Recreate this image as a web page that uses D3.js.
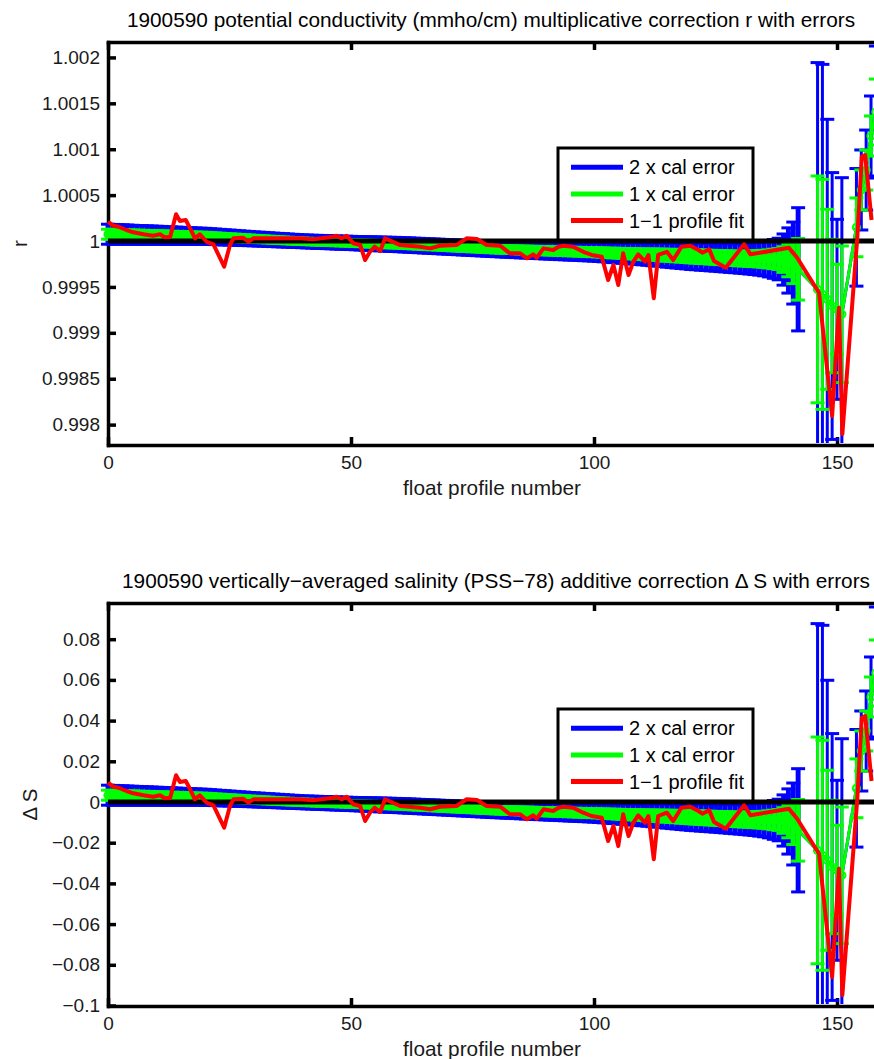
<!DOCTYPE html>
<html><head><meta charset="utf-8">
<script src="https://cdn.jsdelivr.net/npm/d3@7"></script>
<style>body{margin:0;background:#fff}svg{display:block}</style>
</head><body><svg id="c" width="874" height="1059"></svg>
<script>
// ---------- data ----------
const barProfiles = [0,1,2,3,4,5,6,7,8,9,10,11,12,13,14,15,16,17,18,19,20,21,22,23,24,25,26,27,28,29,
30,31,32,33,34,35,36,37,38,39,40,41,42,43,44,45,46,47,48,49,50,51,52,53,54,55,56,57,58,59,
60,61,62,63,64,65,66,67,68,69,70,71,72,73,74,75,76,77,78,79,80,81,82,83,84,85,86,87,88,89,
90,91,92,93,94,95,96,97,98,99,100,101,102,103,104,105,106,107,108,109,110,111,112,113,114,115,116,117,118,119,
120,121,122,123,124,125,126,127,128,129,130,131,132,133,134,135,136,137,138,139,140,141,142,
146,147,148,149,150,151,154,155,156,157,158];

const calR = [1.000074,1.000073,1.000072,1.000071,1.000070,1.000068,1.000067,1.000066,1.000065,1.000064,
1.000063,1.000062,1.000060,1.000059,1.000058,1.000057,1.000056,1.000055,1.000053,1.000052,
1.000051,1.000048,1.000046,1.000043,1.000040,1.000038,1.000035,1.000032,1.000029,1.000027,
1.000024,1.000021,1.000019,1.000016,1.000013,1.000010,1.000008,1.000005,1.000002,1.000000,
0.999997,0.999995,0.999993,0.999991,0.999990,0.999988,0.999986,0.999984,0.999982,0.999981,
0.999979,0.999977,0.999975,0.999973,0.999972,0.999970,0.999968,0.999966,0.999964,0.999963,
0.999961,0.999958,0.999956,0.999953,0.999951,0.999948,0.999946,0.999943,0.999941,0.999938,
0.999936,0.999933,0.999931,0.999928,0.999926,0.999923,0.999921,0.999918,0.999916,0.999913,
0.999911,0.999909,0.999907,0.999906,0.999904,0.999902,0.999901,0.999899,0.999898,0.999896,
0.999894,0.999893,0.999891,0.999889,0.999888,0.999886,0.999885,0.999883,0.999881,0.999880,
0.999878,0.999876,0.999874,0.999871,0.999869,0.999867,0.999865,0.999863,0.999861,0.999858,
0.999856,0.999854,0.999852,0.999850,0.999848,0.999845,0.999843,0.999841,0.999839,0.999837,
0.999834,0.999832,0.999829,0.999827,0.999824,0.999822,0.999819,0.999817,0.999814,0.999812,
0.999809,0.999809,0.999808,0.999807,0.999807,0.999806,0.999805,0.999805,0.999804,0.999798,
0.999788,0.999760,0.999692,
0.999473,0.999419,0.999365,0.999292,0.999256,0.999202,
1.000149,1.000556,1.000773,1.001144,1.001405];

const calRErr = [5.45e-5,5.39e-5,5.34e-5,5.28e-5,5.23e-5,5.17e-5,5.12e-5,5.07e-5,5.01e-5,4.96e-5,
4.90e-5,4.85e-5,4.79e-5,4.74e-5,4.68e-5,4.63e-5,4.58e-5,4.52e-5,4.47e-5,4.41e-5,
4.36e-5,4.30e-5,4.25e-5,4.19e-5,4.14e-5,4.08e-5,4.03e-5,3.98e-5,3.92e-5,3.87e-5,
3.81e-5,3.78e-5,3.75e-5,3.71e-5,3.68e-5,3.65e-5,3.62e-5,3.58e-5,3.55e-5,3.52e-5,
3.49e-5,3.50e-5,3.51e-5,3.52e-5,3.53e-5,3.54e-5,3.55e-5,3.56e-5,3.57e-5,3.58e-5,
3.59e-5,3.62e-5,3.65e-5,3.68e-5,3.70e-5,3.73e-5,3.76e-5,3.79e-5,3.81e-5,3.84e-5,
3.87e-5,3.88e-5,3.89e-5,3.90e-5,3.91e-5,3.92e-5,3.93e-5,3.94e-5,3.95e-5,3.97e-5,
3.98e-5,3.99e-5,4.00e-5,4.01e-5,4.02e-5,4.03e-5,4.04e-5,4.05e-5,4.06e-5,4.07e-5,
4.08e-5,4.12e-5,4.16e-5,4.20e-5,4.24e-5,4.28e-5,4.31e-5,4.35e-5,4.39e-5,4.43e-5,
4.47e-5,4.50e-5,4.54e-5,4.58e-5,4.62e-5,4.66e-5,4.69e-5,4.73e-5,4.77e-5,4.81e-5,
4.85e-5,4.94e-5,5.03e-5,5.13e-5,5.22e-5,5.31e-5,5.40e-5,5.50e-5,5.59e-5,5.68e-5,
5.77e-5,5.91e-5,6.06e-5,6.20e-5,6.34e-5,6.48e-5,6.62e-5,6.76e-5,6.91e-5,7.05e-5,
7.19e-5,7.25e-5,7.32e-5,7.39e-5,7.45e-5,7.52e-5,7.60e-5,7.69e-5,7.78e-5,7.86e-5,
7.95e-5,8.17e-5,8.39e-5,8.61e-5,8.93e-5,9.26e-5,9.80e-5,10.57e-5,11.33e-5,13.94e-5,
17.76e-5,22.33e-5,33.55e-5,
123.53e-5,125.27e-5,98.04e-5,72.66e-5,49.02e-5,74.40e-5,
32.03e-5,21.79e-5,21.79e-5,21.79e-5,35.95e-5];

const calS = [0.00334,0.00329,0.00324,0.00319,0.00314,0.00309,0.00303,0.00298,0.00293,0.00288,
0.00283,0.00278,0.00272,0.00267,0.00262,0.00257,0.00252,0.00247,0.00241,0.00236,
0.00231,0.00219,0.00206,0.00194,0.00182,0.00170,0.00157,0.00145,0.00133,0.00120,
0.00108,0.00096,0.00084,0.00071,0.00059,0.00047,0.00034,0.00022,0.00010,-0.00002,
-0.00015,-0.00023,-0.00031,-0.00039,-0.00047,-0.00055,-0.00063,-0.00072,-0.00080,-0.00088,
-0.00096,-0.00104,-0.00112,-0.00120,-0.00128,-0.00136,-0.00144,-0.00153,-0.00161,-0.00169,
-0.00177,-0.00188,-0.00200,-0.00211,-0.00222,-0.00233,-0.00245,-0.00256,-0.00267,-0.00279,
-0.00290,-0.00301,-0.00313,-0.00324,-0.00335,-0.00346,-0.00358,-0.00369,-0.00380,-0.00392,
-0.00403,-0.00410,-0.00418,-0.00425,-0.00432,-0.00440,-0.00447,-0.00455,-0.00462,-0.00469,
-0.00477,-0.00484,-0.00491,-0.00499,-0.00506,-0.00514,-0.00521,-0.00528,-0.00536,-0.00543,
-0.00550,-0.00560,-0.00570,-0.00580,-0.00590,-0.00600,-0.00609,-0.00619,-0.00629,-0.00639,
-0.00649,-0.00658,-0.00668,-0.00678,-0.00688,-0.00698,-0.00708,-0.00717,-0.00727,-0.00737,
-0.00747,-0.00758,-0.00770,-0.00781,-0.00792,-0.00803,-0.00815,-0.00826,-0.00837,-0.00849,
-0.00860,-0.00863,-0.00866,-0.00869,-0.00872,-0.00875,-0.00878,-0.00881,-0.00885,-0.00909,
-0.00958,-0.01081,-0.01391,
-0.02378,-0.02619,-0.02865,-0.03194,-0.03356,-0.03602,
0.00673,0.02506,0.03489,0.05160,0.06339];

const calSErr = [0.00246,0.00243,0.00241,0.00238,0.00236,0.00233,0.00231,0.00229,0.00226,0.00224,
0.00221,0.00219,0.00216,0.00214,0.00211,0.00209,0.00206,0.00204,0.00201,0.00199,
0.00197,0.00194,0.00192,0.00189,0.00187,0.00184,0.00182,0.00179,0.00177,0.00174,
0.00172,0.00171,0.00169,0.00168,0.00166,0.00165,0.00163,0.00162,0.00160,0.00159,
0.00157,0.00158,0.00158,0.00159,0.00159,0.00160,0.00160,0.00161,0.00161,0.00162,
0.00162,0.00163,0.00165,0.00166,0.00167,0.00168,0.00170,0.00171,0.00172,0.00173,
0.00174,0.00175,0.00175,0.00176,0.00176,0.00177,0.00177,0.00178,0.00178,0.00179,
0.00179,0.00180,0.00180,0.00181,0.00181,0.00182,0.00182,0.00183,0.00183,0.00184,
0.00184,0.00186,0.00188,0.00189,0.00191,0.00193,0.00195,0.00196,0.00198,0.00200,
0.00201,0.00203,0.00205,0.00207,0.00208,0.00210,0.00212,0.00214,0.00215,0.00217,
0.00219,0.00223,0.00227,0.00231,0.00235,0.00240,0.00244,0.00248,0.00252,0.00256,
0.00260,0.00267,0.00273,0.00280,0.00286,0.00292,0.00299,0.00305,0.00312,0.00318,
0.00324,0.00327,0.00330,0.00333,0.00336,0.00339,0.00343,0.00347,0.00351,0.00355,
0.00359,0.00369,0.00378,0.00388,0.00403,0.00418,0.00442,0.00477,0.00511,0.00629,
0.00801,0.01007,0.01514,
0.05572,0.05651,0.04423,0.03278,0.02211,0.03356,
0.01445,0.00983,0.00983,0.00983,0.01622];

const fitProfiles = [0,1.1,2.1,3.8,5.2,7.3,9.3,10.7,11.7,12.8,14,14.8,16,16.9,17.9,18.9,20.3,21.7,23.9,25.1,
25.8,27.8,28.9,29.9,34,39.5,42.2,46.4,47,48.1,49.1,50.5,51.9,52.9,53.9,54.9,56,57,60.1,64.2,
66.3,68.3,71.7,73.8,75.9,77.9,80.7,82.7,84.8,86.2,87.5,88.2,89.6,91.6,92.7,93.7,95.7,97.8,99.5,101.6,
102.9,104,105,106,107.1,108.1,109.1,110.5,111.2,112.3,113.2,115,116.3,118,119.8,121.5,122.3,123.7,124.7,127.1,
130.9,132.2,140.1,141.8,146.3,149,150.4,151.1,154.2,155.1,155.8,157.1];

const fitR = [1.000210,1.000167,1.000156,1.000120,1.000095,1.000073,1.000058,1.000073,1.000040,1.000047,
1.000291,1.000218,1.000229,1.000138,1.000029,1.000073,0.999992,0.999964,0.999720,0.999956,
1.000029,1.000036,0.999992,1.000029,1.000029,1.000029,1.000019,1.000047,1.000058,1.000029,
1.000058,0.999975,0.999956,0.999793,0.999883,0.999938,0.999891,1.000029,0.999956,0.999938,
0.999920,0.999949,0.999956,1.000029,1.000022,0.999956,0.999949,0.999866,0.999866,0.999812,
0.999855,0.999818,0.999920,0.999902,0.999938,0.999949,0.999938,0.999883,0.999848,0.999829,
0.999575,0.999739,0.999521,0.999866,0.999630,0.999775,0.999855,0.999775,0.999848,0.999376,
0.999848,0.999883,0.999793,0.999938,0.999949,0.999902,0.999873,0.999910,0.999782,0.999709,
0.999964,0.999855,0.999927,0.999818,0.999437,0.998094,0.999273,0.997898,1.000054,1.000918,
1.000937,1.000229];

const fitS = [0.00948,0.00752,0.00703,0.00541,0.00428,0.00329,0.00260,0.00329,0.00182,0.00211,
0.01312,0.00983,0.01032,0.00624,0.00133,0.00329,-0.00034,-0.00162,-0.01263,-0.00197,
0.00133,0.00162,-0.00034,0.00133,0.00133,0.00133,0.00084,0.00211,0.00260,0.00133,
0.00260,-0.00113,-0.00197,-0.00934,-0.00526,-0.00280,-0.00491,0.00133,-0.00197,-0.00280,
-0.00359,-0.00231,-0.00197,0.00133,0.00098,-0.00197,-0.00231,-0.00604,-0.00604,-0.00850,
-0.00654,-0.00821,-0.00359,-0.00442,-0.00280,-0.00231,-0.00280,-0.00526,-0.00688,-0.00771,
-0.01916,-0.01179,-0.02162,-0.00604,-0.01671,-0.01017,-0.00654,-0.01017,-0.00688,-0.02816,
-0.00688,-0.00526,-0.00934,-0.00280,-0.00231,-0.00442,-0.00575,-0.00408,-0.00983,-0.01312,
-0.00162,-0.00654,-0.00329,-0.00821,-0.02541,-0.08599,-0.03278,-0.09484,0.00246,0.04143,
0.04226,0.01032];

const xTicks = [0, 50, 100, 150];
const rTicks = [0.998, 0.9985, 0.999, 0.9995, 1, 1.0005, 1.001, 1.0015, 1.002];
const rTickLabels = ["0.998","0.9985","0.999","0.9995","1","1.0005","1.001","1.0015","1.002"];
const sTicks = [-0.1,-0.08,-0.06,-0.04,-0.02,0,0.02,0.04,0.06,0.08];
const sTickLabels = ["\u22120.1","\u22120.08","\u22120.06","\u22120.04","\u22120.02","0","0.02","0.04","0.06","0.08"];
const rLimits = [0.997778, 1.002168];
const sLimits = [-0.10025, 0.09779];
const xLimits = [0, 170];
const legendLabels = ["2 x cal error", "1 x cal error", "1\u22121 profile fit"];
const legendColors = ["#0000ff", "#00ff00", "#ff0000"];
const titles = ["1900590 potential conductivity (mmho/cm) multiplicative correction r with errors",
                "1900590 vertically\u2212averaged salinity (PSS\u221278) additive correction \u0394 S with errors"];
const xLabel = "float profile number";

// ---------- drawing ----------
const FONT = "'Liberation Sans', Arial, Helvetica, sans-serif";
const svg = d3.select("#c");
const x = d3.scaleLinear().domain(xLimits).range([108, 108 + 4.86 * 170]);

function panel(o) {
  const y = d3.scaleLinear().domain(o.yLimits).range([o.bottom, o.top]);
  const g = svg.append("g");
  const clipId = "clip" + o.id;
  svg.append("clipPath").attr("id", clipId).append("rect")
    .attr("x", 90).attr("y", o.top + 2).attr("width", 800).attr("height", o.bottom - o.top - 4);

  function styleAxis(sel) {
    sel.attr("font-size", 19).attr("font-family", FONT);
    sel.select(".domain").attr("stroke", "#000").attr("stroke-width", 3.5).attr("stroke-linecap", "square");
    sel.selectAll(".tick line").attr("stroke", "#000").attr("stroke-width", 3.5);
    sel.selectAll(".tick text").attr("fill", "#1a1a1a");
  }
  g.append("g").attr("transform", `translate(${x(0)},0)`)
    .call(d3.axisLeft(y).tickValues(o.yTicks).tickFormat((d, i) => o.yTickLabels[i])
      .tickSizeInner(-8).tickSizeOuter(0).tickPadding(8))
    .call(styleAxis);
  g.append("g").attr("transform", `translate(0,${o.bottom})`)
    .call(d3.axisBottom(x).tickValues(xTicks).tickSizeInner(-8).tickSizeOuter(0).tickPadding(11))
    .call(styleAxis);
  g.append("g").attr("transform", `translate(0,${o.top})`)
    .call(d3.axisTop(x).tickValues(xTicks).tickFormat(() => "").tickSizeInner(-8).tickSizeOuter(0))
    .call(styleAxis);

  const bars = barProfiles.map((p, i) => ({ p, c: o.center[i], e: o.err[i] }));
  const data = g.append("g").attr("clip-path", `url(#${clipId})`);
  const CAP = 7;
  const centerLine = d3.line().x(d => x(d.p)).y(d => y(d.c));
  // dense (consecutive) profiles render as a solid band; isolated large bars as thin lines
  const vWidth = d => (d.p <= 142 ? 4.9 : 3);

  [[2, "#0000ff"], [1, "#00ff00"]].forEach(([k, col]) => {
    const gg = data.append("g").attr("stroke", col).attr("fill", "none");
    gg.append("g").selectAll("line").data(bars).join("line")
      .attr("x1", d => x(d.p)).attr("x2", d => x(d.p))
      .attr("y1", d => y(d.c - k * d.e)).attr("y2", d => y(d.c + k * d.e))
      .attr("stroke-width", vWidth);
    gg.append("g").selectAll("line").data(bars.flatMap(d => [d.c - k * d.e, d.c + k * d.e].map(v => ({ p: d.p, v }))))
      .join("line")
      .attr("x1", d => x(d.p) - CAP).attr("x2", d => x(d.p) + CAP)
      .attr("y1", d => y(d.v)).attr("y2", d => y(d.v))
      .attr("stroke-width", 3);
    gg.append("path").attr("d", centerLine(bars)).attr("stroke-width", 3);
    if (k === 1) {
      gg.append("g").selectAll("circle").data(bars).join("circle")
        .attr("cx", d => x(d.p)).attr("cy", d => y(d.c)).attr("r", 3.6).attr("stroke-width", 2);
    }
  });

  data.append("line").attr("x1", x(0)).attr("x2", x(xLimits[1]))
    .attr("y1", y(o.ref)).attr("y2", y(o.ref)).attr("stroke", "#000").attr("stroke-width", 5);

  const fit = fitProfiles.map((p, i) => ({ p, v: o.fit[i] }));
  data.append("path").attr("d", d3.line().x(d => x(d.p)).y(d => y(d.v))(fit))
    .attr("fill", "none").attr("stroke", "#ff0000").attr("stroke-width", 4)
    .attr("stroke-linejoin", "round");

  // legend
  const lg = g.append("g").attr("font-family", FONT).attr("font-size", 20);
  lg.append("rect").attr("x", 558).attr("y", o.top + 106).attr("width", 195).attr("height", 92)
    .attr("fill", "#fff").attr("stroke", "#000").attr("stroke-width", 3);
  const rowsY = [125.3, 152, 178.5];
  legendLabels.forEach((lab, i) => {
    const yy = o.top + rowsY[i];
    lg.append("line").attr("x1", 571).attr("x2", 623).attr("y1", yy).attr("y2", yy)
      .attr("stroke", legendColors[i]).attr("stroke-width", 5);
    lg.append("text").attr("x", 629).attr("y", yy + 7).attr("fill", "#000").text(lab);
  });

  // texts
  svg.append("text").attr("x", o.titleX).attr("y", o.top - 15).attr("text-anchor", "middle")
    .attr("font-family", FONT).attr("font-size", 20.8).attr("fill", "#000").text(o.title);
  svg.append("text").attr("x", 492).attr("y", o.bottom + 50).attr("text-anchor", "middle")
    .attr("font-family", FONT).attr("font-size", 20.8).attr("fill", "#1a1a1a").text(xLabel);
  svg.append("text").attr("transform", `translate(${o.ylabX},${(o.top + o.bottom) / 2}) rotate(-90)`)
    .attr("text-anchor", "middle").attr("font-family", FONT).attr("font-size", 20.5).attr("fill", "#1a1a1a")
    .text(o.ylabel);
}

panel({ id: "r", top: 42, bottom: 445, yLimits: rLimits, yTicks: rTicks, yTickLabels: rTickLabels,
  center: calR, err: calRErr, fit: fitR, ref: 1, title: titles[0], titleX: 491, ylabel: "r", ylabX: 27 });
panel({ id: "s", top: 603, bottom: 1006, yLimits: sLimits, yTicks: sTicks, yTickLabels: sTickLabels,
  center: calS, err: calSErr, fit: fitS, ref: 0, title: titles[1], titleX: 496, ylabel: "\u0394 S", ylabX: 37 });
</script>
</body></html>
